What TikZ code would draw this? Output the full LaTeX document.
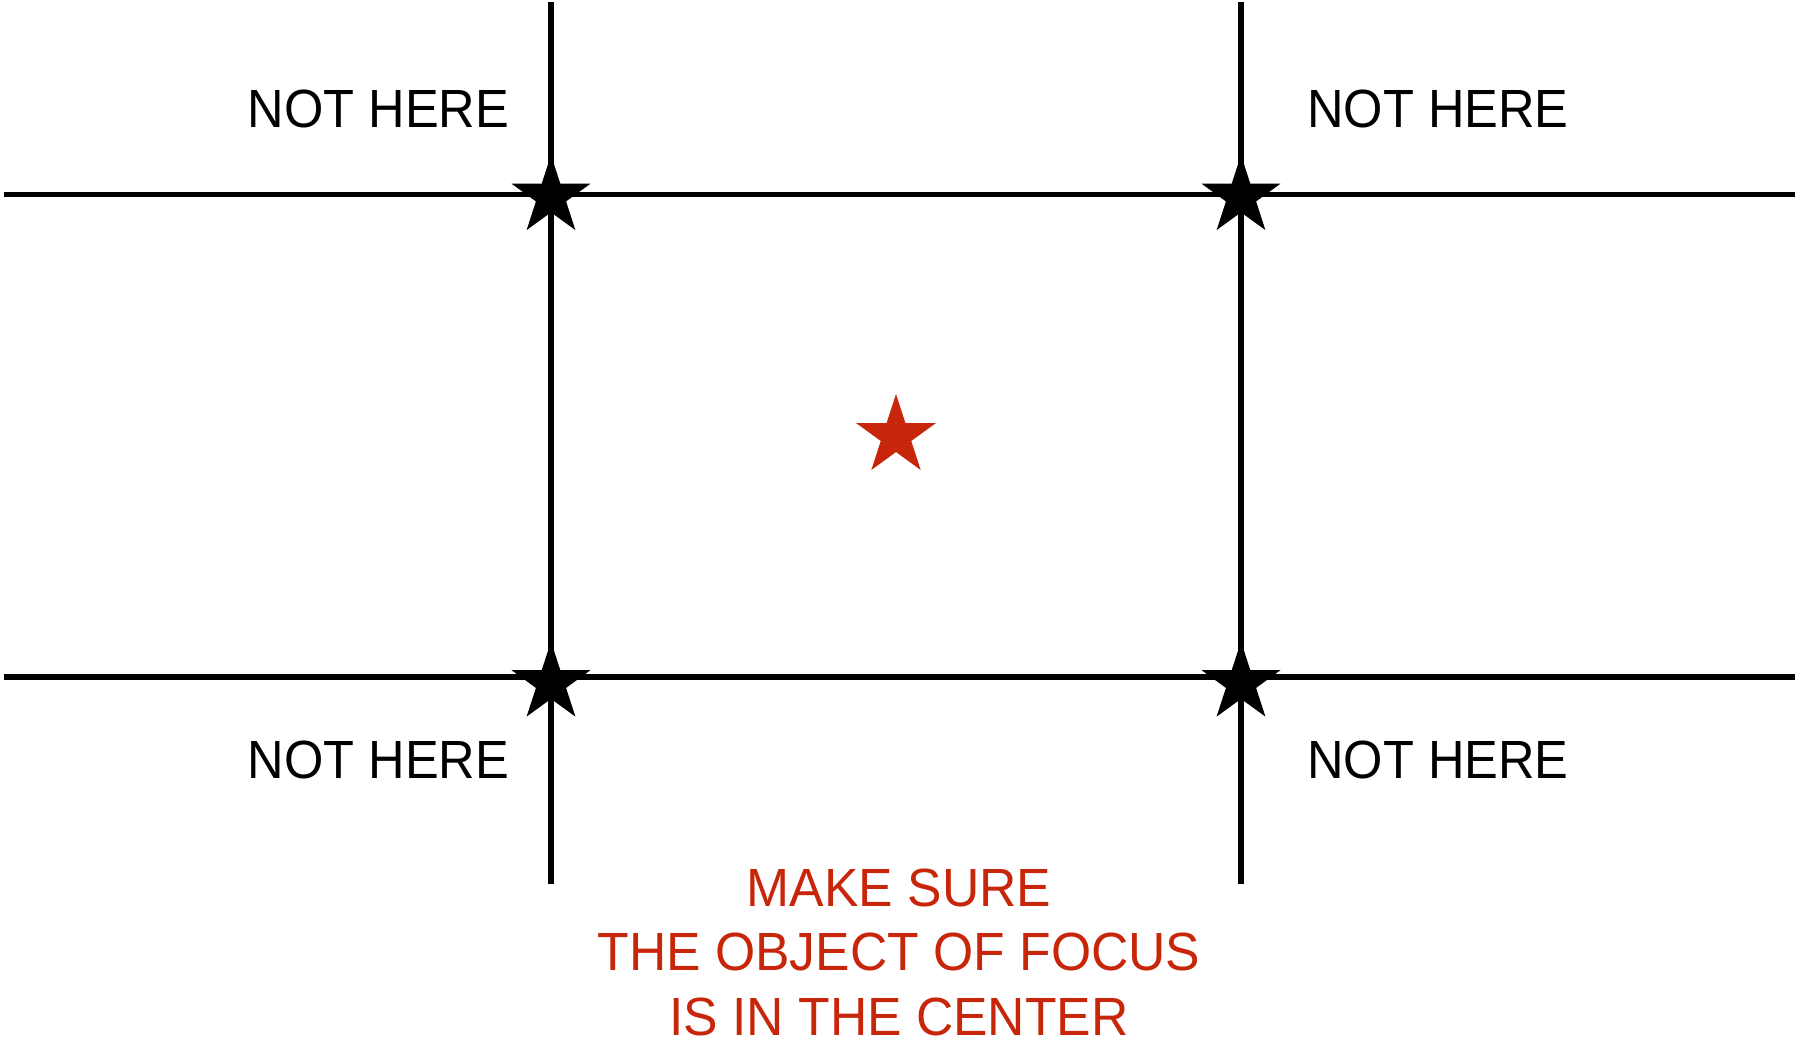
\documentclass[tikz,border=0pt]{standalone}
\usepackage{fontspec}
\usetikzlibrary{shapes.geometric}
\newfontfamily\labelfont[FakeStretch=0.94]{Liberation Sans}
\newfontfamily\notefont[FakeStretch=0.96]{Liberation Sans}
\definecolor{focusred}{RGB}{200,38,10}
\tikzset{
  gridline/.style={line width=2.75pt, line cap=butt},
  corner/.style={star, star points=5, star point ratio=2.618, fill=black, draw=none, inner sep=0pt, minimum size=41.5pt},
  focus/.style={star, star points=5, star point ratio=2.618, fill=focusred, draw=none, inner sep=0pt, minimum size=42pt},
  warn/.style={font=\labelfont\fontsize{26.9pt}{32pt}\selectfont, text=black, inner sep=0pt, anchor=base},
  note/.style={font=\notefont\fontsize{26.9pt}{32.2pt}\selectfont, text=focusred, inner sep=0pt, align=center, text depth=0pt},
}
\begin{document}
\begin{tikzpicture}[x=0.5pt, y=-0.5pt]
\useasboundingbox (0,0) rectangle (1797,1041);
% line ends
\coordinate (v1t) at (551,2);    \coordinate (v1b) at (551,884);
\coordinate (v2t) at (1241,2);   \coordinate (v2b) at (1241,884);
\coordinate (h1l) at (4,194.5);  \coordinate (h1r) at (1795,194.5);
\coordinate (h2l) at (4,677);    \coordinate (h2r) at (1795,677);
\draw[gridline] (v1t) -- (v1b);
\draw[gridline] (v2t) -- (v2b);
\draw[gridline] (h1l) -- (h1r);
\draw[gridline] (h2l) -- (h2r);
% stars
\node[corner] (s1) at (551,196.5) {};
\node[corner] (s2) at (1241,196.5) {};
\node[corner] (s3) at (551,683) {};
\node[corner] (s4) at (1241,683) {};
\node[focus] (c) at (896,436) {};
% labels
\node[warn] (t1) at (378.5,127) {NOT HERE};
\node[warn] (t2) at (1438,127) {NOT HERE};
\node[warn] (t3) at (378.5,778) {NOT HERE};
\node[warn] (t4) at (1438,778) {NOT HERE};
\node[note, anchor=base] (m) at (899,1035) {MAKE SURE\\THE OBJECT OF FOCUS\\IS IN THE CENTER};
\end{tikzpicture}
\end{document}
